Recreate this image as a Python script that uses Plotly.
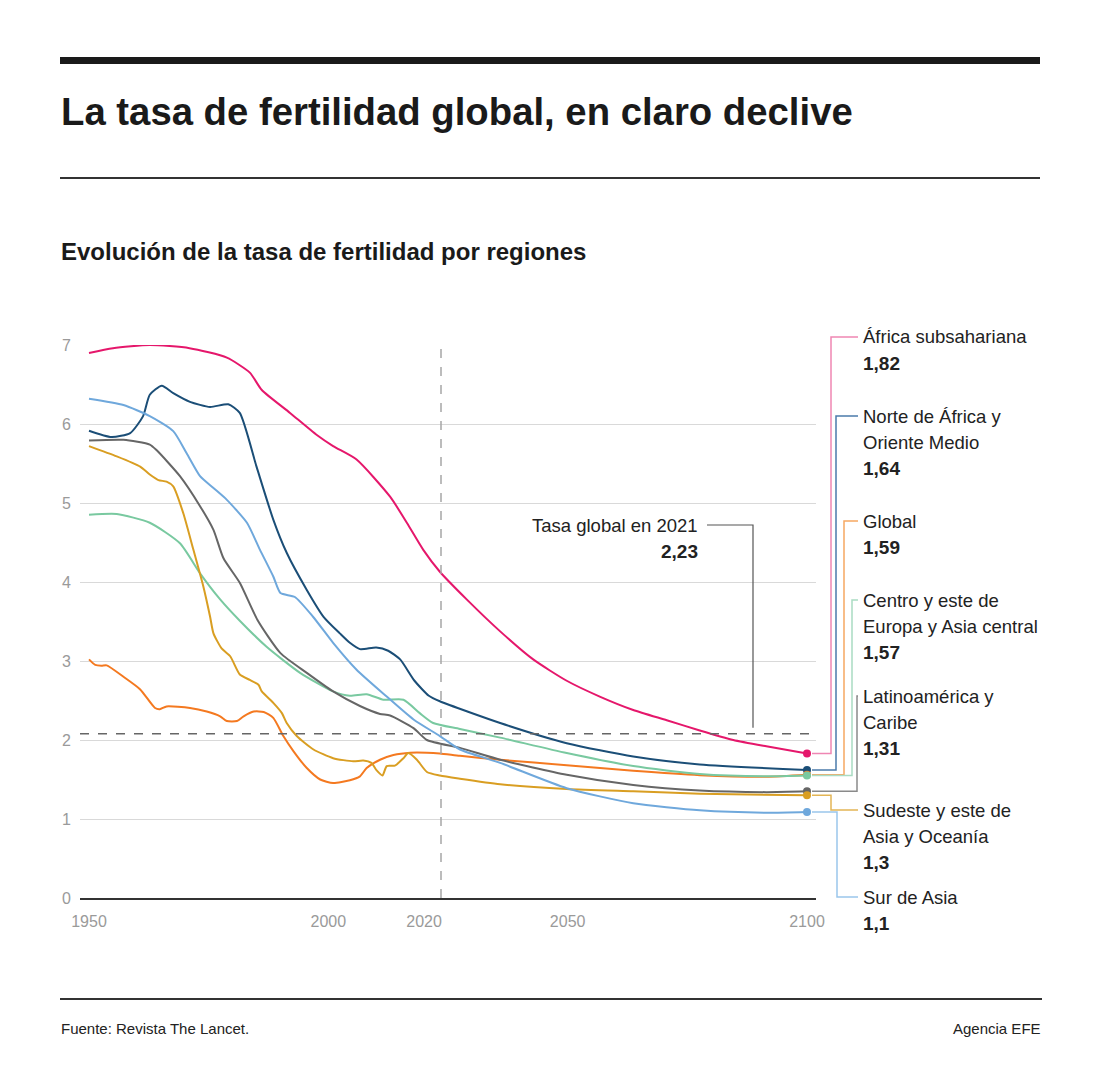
import plotly.graph_objects as go

# ---------------- data ----------------
africa_sub_years = [1950, 1955, 1962.7, 1971, 1978.8, 1983.6, 1986.1, 1992, 1997.6, 2001, 2005.9,
                    2012.9, 2016.4, 2019.8, 2023.3, 2028.9, 2035.9, 2042.8, 2049.8, 2056.7, 2063.7,
                    2070.7, 2077.6, 2084.6, 2091.5, 2100]
africa_sub_vals = [6.90, 6.96, 7.0, 6.96, 6.84, 6.65, 6.43, 6.14, 5.86, 5.72, 5.55,
                   5.08, 4.75, 4.41, 4.13, 3.78, 3.375, 3.02, 2.75, 2.55, 2.38,
                   2.25, 2.12, 2.00, 1.92, 1.83]

norte_years = [1950, 1954.7, 1958.6, 1961.3, 1962.7, 1965.2, 1967.6, 1971.1, 1975.3, 1979.1, 1981.5,
               1985, 1988.5, 1991.3, 1995.5, 1999, 2002.4, 2004.5, 2006.6, 2010, 2012.5, 2015,
               2018, 2021, 2023.3, 2035.9, 2049.8, 2063.7, 2077.6, 2100]
norte_vals = [5.915, 5.835, 5.885, 6.10, 6.37, 6.485, 6.39, 6.28, 6.215, 6.25, 6.14,
              5.46, 4.79, 4.37, 3.90, 3.56, 3.35, 3.23, 3.15, 3.17, 3.13, 3.02,
              2.75, 2.56, 2.49, 2.215, 1.96, 1.79, 1.69, 1.62]

sur_asia_years = [1950, 1957.2, 1962.7, 1967.6, 1970.4, 1973.2, 1976, 1978.8, 1983, 1985.7, 1988.5,
                  1990, 1993, 1996.8, 2001, 2005.9, 2012.2, 2017.8, 2023.3, 2027.5, 2035.9, 2049.8,
                  2063.7, 2077.6, 2091.5, 2100]
sur_asia_vals = [6.32, 6.24, 6.10, 5.91, 5.63, 5.34, 5.19, 5.04, 4.75, 4.41, 4.07,
                 3.86, 3.81, 3.56, 3.23, 2.89, 2.55, 2.26, 2.05, 1.88, 1.71, 1.39,
                 1.20, 1.11, 1.08, 1.09]

latam_years = [1950, 1957.2, 1962.7, 1964.1, 1969, 1973.2, 1976, 1978.1, 1981.5, 1985.2, 1990,
               1995.5, 2001, 2006.6, 2010.8, 2012.9, 2017.8, 2020.6, 2027.5, 2035.9, 2049.8,
               2063.7, 2077.6, 2091.5, 2100]
latam_vals = [5.79, 5.80, 5.74, 5.67, 5.34, 4.96, 4.66, 4.30, 3.99, 3.52, 3.10,
              2.85, 2.615, 2.43, 2.33, 2.31, 2.15, 2.00, 1.90, 1.75, 1.56,
              1.43, 1.36, 1.34, 1.35]

green_years = [1950, 1955.8, 1962.7, 1969, 1973.2, 1977.4, 1981.5, 1987.1, 1994.1, 2001, 2004.5,
               2008, 2011.5, 2015.7, 2019.1, 2021.9, 2027.5, 2035.9, 2049.8, 2063.7, 2077.6,
               2091.5, 2100]
green_vals = [4.85, 4.86, 4.75, 4.49, 4.11, 3.78, 3.51, 3.18, 2.85, 2.615, 2.56,
              2.58, 2.51, 2.51, 2.34, 2.215, 2.14, 2.03, 1.835, 1.67, 1.57,
              1.54, 1.55]

sudeste_years = [1950, 1955.8, 1960.7, 1962.7, 1964.5, 1966.2, 1967.6, 1969.7, 1971.8, 1973.9, 1975.3,
                 1976, 1977.7, 1979.5, 1981.5, 1983.6, 1985.4, 1986.1, 1988.5, 1990.3, 1991.3,
                 1993.4, 1996.9, 2001, 2005.2, 2007.3, 2009, 2010.1, 2011.3, 2012.2, 2013.9,
                 2015.7, 2016.7, 2018.5, 2020.6, 2023.3, 2027.5, 2035.9, 2049.8, 2063.7, 2077.6, 2100]
sudeste_vals = [5.72, 5.59, 5.46, 5.36, 5.29, 5.27, 5.21, 4.87, 4.41, 3.94, 3.56,
                3.35, 3.16, 3.06, 2.83, 2.76, 2.70, 2.615, 2.47, 2.34, 2.215,
                2.05, 1.88, 1.77, 1.73, 1.74, 1.71, 1.615, 1.55, 1.67, 1.675,
                1.77, 1.835, 1.75, 1.595, 1.55, 1.51, 1.44, 1.38, 1.35, 1.32, 1.30]

orange_years = [1950, 1951.3, 1952.6, 1953.7, 1957.2, 1960.7, 1963.8, 1964.8, 1966.2, 1971.1, 1974.6,
                1977.4, 1978.8, 1980.9, 1982.3, 1984.4, 1986.5, 1988.5, 1990.6, 1992.7, 1995.5,
                1998.3, 2001, 2004.5, 2006.6, 2008, 2010.8, 2013.6, 2017.1, 2020.6, 2023.3,
                2027.5, 2035.9, 2049.8, 2063.7, 2077.6, 2091.5, 2100]
orange_vals = [3.02, 2.95, 2.94, 2.945, 2.80, 2.64, 2.405, 2.39, 2.425, 2.405, 2.36,
               2.30, 2.24, 2.24, 2.30, 2.36, 2.355, 2.28, 2.05, 1.86, 1.645,
               1.50, 1.455, 1.49, 1.54, 1.645, 1.75, 1.81, 1.84, 1.84, 1.83,
               1.80, 1.75, 1.68, 1.61, 1.555, 1.535, 1.56]

reference_rate = 2.08
x_tick_vals = [1950, 2000, 2020, 2050, 2100]
y_tick_vals = [0, 1, 2, 3, 4, 5, 6, 7]

# label blocks: (lines, value text)
labels = [
    (["África subsahariana"], "1,82"),
    (["Norte de África y", "Oriente Medio"], "1,64"),
    (["Global"], "1,59"),
    (["Centro y este de", "Europa y Asia central"], "1,57"),
    (["Latinoamérica y", "Caribe"], "1,31"),
    (["Sudeste y este de", "Asia y Oceanía"], "1,3"),
    (["Sur de Asia"], "1,1"),
]

# ---------------- styling ----------------
FONT = "Liberation Sans, Arial, sans-serif"
W, H = 1100, 1081
L, R, T, B = 80, 816, 345, 898
YMAX = 7

def px(x):
    return (x - L) / (R - L)

def py(y):
    return (B - y) / (B - T)

def pv(v):
    return v / YMAX

series = [
    # years, vals, line colour, connector colour, connector x, label first line y
    (africa_sub_years, africa_sub_vals, "#e5176b", "#ef86b3", 831, 337),
    (norte_years, norte_vals, "#1b4e77", "#4b7bab", 836, 416),
    (orange_years, orange_vals, "#f47920", "#f6a862", 844, 521),
    (green_years, green_vals, "#79c9a0", "#a9dcc2", 852, 600),
    (latam_years, latam_vals, "#666666", "#8a8a8a", 857, 696),
    (sudeste_years, sudeste_vals, "#d99e22", "#e3b555", 831, 810),
    (sur_asia_years, sur_asia_vals, "#6fa8dc", "#9ac6ec", 837, 897),
]

fig = go.Figure()
for yrs, vals, col, ccol, cx, ly in series:
    fig.add_trace(go.Scatter(
        x=yrs, y=vals, mode="lines", line=dict(color=col, width=2, shape="spline", smoothing=0.6),
        cliponaxis=False, showlegend=False, hoverinfo="skip"))
for yrs, vals, col, ccol, cx, ly in series:
    fig.add_trace(go.Scatter(
        x=[yrs[-1]], y=[vals[-1]], mode="markers", marker=dict(color=col, size=8),
        cliponaxis=False, showlegend=False, hoverinfo="skip"))

shapes = []
annotations = []

# header / footer rules
shapes.append(dict(type="rect", xref="paper", yref="paper", x0=px(60), x1=px(1040), y0=py(57), y1=py(64),
                   fillcolor="#1a1a1a", line=dict(width=0)))
shapes.append(dict(type="line", xref="paper", yref="paper", x0=px(60), x1=px(1040), y0=py(178), y1=py(178),
                   line=dict(color="#333333", width=2)))
shapes.append(dict(type="line", xref="paper", yref="paper", x0=px(60), x1=px(1042), y0=py(999), y1=py(999),
                   line=dict(color="#333333", width=2)))

# reference lines
shapes.append(dict(type="line", xref="paper", yref="y", x0=0, x1=1, y0=reference_rate, y1=reference_rate,
                   line=dict(color="#666666", width=1.5, dash="dash")))
shapes.append(dict(type="line", xref="paper", yref="paper", x0=px(441), x1=px(441), y0=0, y1=1,
                   line=dict(color="#a6a6a6", width=1.5, dash="dash")))

# 'Tasa global' callout
shapes.append(dict(type="path", xref="paper", yref="paper",
                   path=f"M {px(707)} {py(525)} L {px(753)} {py(525)} L {px(753)} {pv(reference_rate) + 6/553}",
                   line=dict(color="#555555", width=1.2)))
annotations.append(dict(xref="paper", yref="paper", x=px(700), y=py(525), xanchor="right", yanchor="middle",
                        text="Tasa global en 2021", showarrow=False, font=dict(family=FONT, size=18.5, color="#222")))
annotations.append(dict(xref="paper", yref="paper", x=px(700), y=py(551), xanchor="right", yanchor="middle",
                        text="<b>2,23</b>", showarrow=False, font=dict(family=FONT, size=19, color="#222")))

# connectors and labels
for (yrs, vals, col, ccol, cx, ly), (lines, valtxt) in zip(series, labels):
    yend = pv(vals[-1])
    shapes.append(dict(type="path", xref="paper", yref="paper",
                       path=f"M {px(812)} {yend} L {px(cx)} {yend} L {px(cx)} {py(ly)} L {px(858)} {py(ly)}",
                       line=dict(color=ccol, width=1.5)))
    yy = ly
    for ln in lines:
        annotations.append(dict(xref="paper", yref="paper", x=px(861), y=py(yy), xanchor="left", yanchor="middle",
                                text=ln, showarrow=False, font=dict(family=FONT, size=18.5, color="#222")))
        yy += 26
    annotations.append(dict(xref="paper", yref="paper", x=px(861), y=py(yy), xanchor="left", yanchor="middle",
                            text=f"<b>{valtxt}</b>", showarrow=False, font=dict(family=FONT, size=19, color="#222")))

# titles and footer text
annotations.append(dict(xref="paper", yref="paper", x=px(59), y=py(112), xanchor="left", yanchor="middle",
                        text="<b>La tasa de fertilidad global, en claro declive</b>", showarrow=False,
                        font=dict(family=FONT, size=38.3, color="#1a1a1a")))
annotations.append(dict(xref="paper", yref="paper", x=px(59), y=py(252), xanchor="left", yanchor="middle",
                        text="<b>Evolución de la tasa de fertilidad por regiones</b>", showarrow=False,
                        font=dict(family=FONT, size=24, color="#1a1a1a")))
annotations.append(dict(xref="paper", yref="paper", x=px(59), y=py(1028), xanchor="left", yanchor="middle",
                        text="Fuente: Revista The Lancet.", showarrow=False,
                        font=dict(family=FONT, size=15, color="#222")))
annotations.append(dict(xref="paper", yref="paper", x=px(1043), y=py(1028), xanchor="right", yanchor="middle",
                        text="Agencia EFE", showarrow=False,
                        font=dict(family=FONT, size=15, color="#222")))

fig.update_layout(
    width=W, height=H,
    margin=dict(l=L, r=W - R, t=T, b=H - B, pad=0),
    paper_bgcolor="white", plot_bgcolor="white",
    shapes=shapes, annotations=annotations,
    xaxis=dict(range=[1948.12, 2101.88], tickvals=x_tick_vals, ticktext=[str(v) for v in x_tick_vals],
               showgrid=False, zeroline=False, showline=True, linecolor="#333333", linewidth=1.5,
               ticks="", tickfont=dict(family=FONT, size=16, color="#9a9a9a"), ticklabelstandoff=8),
    yaxis=dict(range=[0, YMAX], tickvals=y_tick_vals, showgrid=True, gridcolor="#d9d9d9", gridwidth=1,
               zeroline=False, showline=False, ticks="",
               tickfont=dict(family=FONT, size=16, color="#9a9a9a"), ticklabelstandoff=8),
)

fig.write_html("out.html", config={"displayModeBar": False},
               post_script="document.body.style.margin='0';")
